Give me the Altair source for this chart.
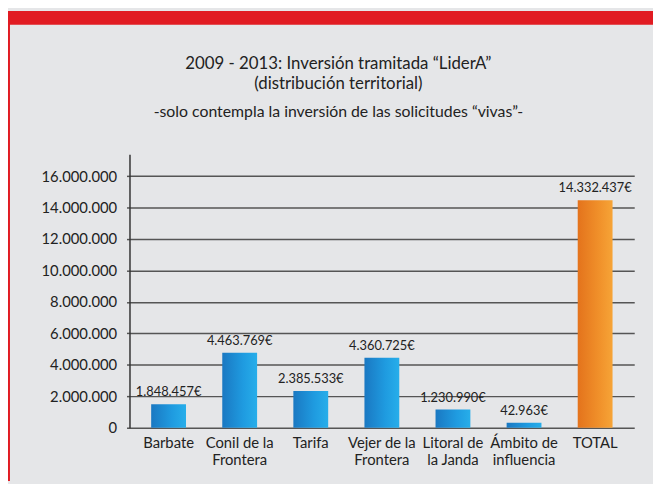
import altair as alt
import pandas as pd

# ---- data ----
categories = ["Barbate", "Conil de la|Frontera", "Tarifa", "Vejer de la|Frontera",
              "Litoral de|la Janda", "Ámbito de|influencia", "TOTAL"]
bar_values = [1500000, 4770000, 2340000, 4450000, 1160000, 310000, 14470000]
value_labels = ["1.848.457€", "4.463.769€", "2.385.533€", "4.360.725€",
                "1.230.990€", "42.963€", "14.332.437€"]
groups = ["zona", "zona", "zona", "zona", "zona", "zona", "total"]
y_ticks = [0, 2000000, 4000000, 6000000, 8000000, 10000000, 12000000, 14000000, 16000000]

df = pd.DataFrame({"cat": categories, "value": bar_values,
                   "label": value_labels, "group": groups})

FONT = "Lato"
TXT = "#222222"

x_enc = alt.X("cat:N", sort=categories,
              scale=alt.Scale(paddingInner=0.51, paddingOuter=0.305),
              axis=alt.Axis(title=None, labelAngle=0, ticks=False, domain=False,
                            labelExpr="split(datum.label, '|')",
                            labelFont=FONT, labelFontSize=15, labelColor=TXT,
                            labelPadding=8, labelLineHeight=17, labelBaseline="top"))
y_enc = alt.Y("value:Q",
              scale=alt.Scale(domain=[0, 17400000], nice=False, zero=True),
              axis=alt.Axis(title=None, values=y_ticks,
                            labelExpr="replace(format(datum.value, ','), regexp(',', 'g'), '.')",
                            labelFont=FONT, labelFontSize=15, labelColor=TXT,
                            labelPadding=10, grid=True, gridColor="#555555",
                            gridWidth=1.5, domainColor="#333333", domainWidth=1.5,
                            tickSize=3, tickColor="#555555", tickWidth=1.5))

base = alt.Chart(df).encode(x=x_enc, y=y_enc)

blue = alt.Gradient(gradient="linear", x1=0, x2=1, y1=0, y2=0,
                    stops=[alt.GradientStop(color="#1a78c2", offset=0),
                           alt.GradientStop(color="#1f9be0", offset=0.6),
                           alt.GradientStop(color="#27aeea", offset=1)])
orange = alt.Gradient(gradient="linear", x1=0, x2=1, y1=0, y2=0,
                      stops=[alt.GradientStop(color="#e4731c", offset=0),
                             alt.GradientStop(color="#f0902a", offset=0.6),
                             alt.GradientStop(color="#f6a437", offset=1)])

bars_blue = base.transform_filter("datum.group == 'zona'").mark_bar(color=blue)
bars_total = base.transform_filter("datum.group == 'total'").mark_bar(color=orange)
labels = base.mark_text(baseline="bottom", dy=-5, font=FONT, fontSize=13,
                        color=TXT).encode(text="label:N")

frame = alt.Data(values=[{"k": 1}])
red_top = alt.Chart(frame).mark_rect(color="#e11b22").encode(
    x=alt.value(-123), x2=alt.value(530), y=alt.value(-145), y2=alt.value(-131))
red_left = alt.Chart(frame).mark_rect(color="#e11b22").encode(
    x=alt.value(-123), x2=alt.value(-121), y=alt.value(-145), y2=alt.value(331))

chart = alt.layer(bars_blue, bars_total, labels, red_top, red_left).properties(
    width=511, height=277,
    autosize=alt.AutoSizeParams(type="none"),
    padding={"left": 123, "top": 145, "right": 19, "bottom": 54},
    background="#e5e6e8",
    title=alt.TitleParams(
        text=["2009 - 2013: Inversión tramitada “LiderA”", "(distribución territorial)"],
        subtitle="-solo contempla la inversión de las solicitudes “vivas”-",
        anchor="middle", frame="group", dx=-44, offset=-111, font=FONT, fontSize=17,
        fontWeight="normal", color=TXT, lineHeight=20,
        subtitleFont=FONT, subtitleFontSize=16, subtitleColor=TXT,
        subtitlePadding=11),
).configure_view(stroke=None)

chart.save("out.html", embed_options={"renderer": "svg", "actions": False})
